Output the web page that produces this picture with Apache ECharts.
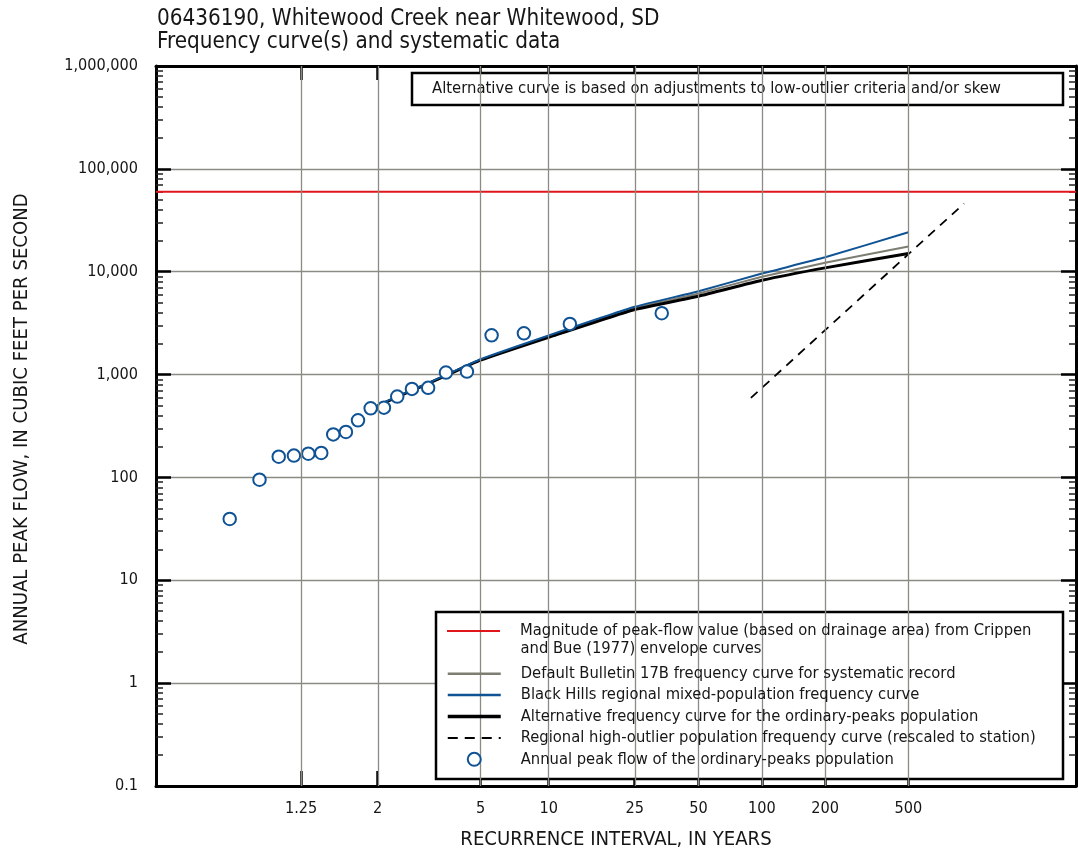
<!DOCTYPE html>
<html>
<head>
<meta charset="utf-8">
<title>06436190 Whitewood Creek near Whitewood, SD</title>
<script src="https://cdn.jsdelivr.net/npm/echarts@6.0.0/dist/echarts.min.js"></script>
<style>
html,body{margin:0;padding:0;background:#ffffff;}
#chart{width:1078px;height:855px;}
</style>
</head>
<body>
<div id="chart"></div>
<script>
// ---------------- texts ----------------
const titleLines = ['06436190, Whitewood Creek near Whitewood, SD', 'Frequency curve(s) and systematic data'];
const noteText = 'Alternative curve is based on adjustments to low-outlier criteria and/or skew';
const xAxisTitle = 'RECURRENCE INTERVAL, IN YEARS';
const yAxisTitle = 'ANNUAL PEAK FLOW, IN CUBIC FEET PER SECOND';

// ---------------- ticks ----------------
const xTickYears = [1.25, 2, 5, 10, 25, 50, 100, 200, 500];
const xTickLabels = ['1.25', '2', '5', '10', '25', '50', '100', '200', '500'];
const yTickValues = [0.1, 1, 10, 100, 1000, 10000, 100000, 1000000];
const yTickLabels = ['0.1', '1', '10', '100', '1,000', '10,000', '100,000', '1,000,000'];

// ---------------- series names / legend text ----------------
const nameEnvelope = 'Magnitude of peak-flow value (based on drainage area) from Crippen and Bue (1977) envelope curves';
const nameDefault = 'Default Bulletin 17B frequency curve for systematic record';
const nameRegional = 'Black Hills regional mixed-population frequency curve';
const nameAlternative = 'Alternative frequency curve for the ordinary-peaks population';
const nameOutlier = 'Regional high-outlier population frequency curve (rescaled to station)';
const namePeaks = 'Annual peak flow of the ordinary-peaks population';
const envelopeLegendLine1 = 'Magnitude of peak-flow value (based on drainage area) from Crippen';
const envelopeLegendLine2 = 'and Bue (1977) envelope curves';

// ---------------- values ----------------
const envelopeQ = 59800;                        // cubic feet per second
const curveRI = [2, 2.5, 3, 4, 5, 10, 25, 50, 100, 200, 500];   // recurrence interval, years
const defaultQ = [497, 658, 808, 1105, 1395, 2350, 4420, 6140, 8920, 12200, 17600];
const regionalQ = [505, 665, 812, 1115, 1410, 2400, 4560, 6460, 9600, 13800, 24200];
const alternativeQ = [497, 655, 805, 1100, 1380, 2300, 4290, 5780, 8260, 10900, 15000];
const outlierRI = [88.6, 200, 500, 923];
const outlierQ = [593, 2700, 14800, 46000];
const peakRI = [1.03, 1.085, 1.146, 1.212, 1.292, 1.38, 1.477, 1.598, 1.733, 1.898,
                2.10, 2.337, 2.645, 3.05, 3.59, 4.38, 5.58, 7.74, 12.5, 33.5];
const peakQ = [39.5, 95, 159, 163, 170, 173, 262, 277, 359, 470,
               477, 611, 726, 743, 1046, 1069, 2410, 2520, 3110, 3950];

// ---------------- fonts ----------------
const mctx = document.createElement('canvas').getContext('2d');
function fontExists(name) {
  const s = 'abcdefghijklmnopqrstuvwxyzABCDEFGHIJKLMNOPQRSTUVWXYZ0123456789';
  for (const base of ['monospace', 'serif']) {
    mctx.font = '40px ' + base; const w0 = mctx.measureText(s).width;
    mctx.font = "40px '" + name + "', " + base; const w1 = mctx.measureText(s).width;
    if (Math.abs(w1 - w0) > 0.5) return true;
  }
  return false;
}
const FAMILY = ['Liberation Sans Narrow', 'DejaVu Sans Condensed', 'Roboto Condensed', 'Arial Narrow', 'Liberation Sans'].find(fontExists) || 'sans-serif';
const FONT = "'" + FAMILY + "', sans-serif";
function textW(t, size) { mctx.font = size + 'px ' + FONT; return mctx.measureText(t).width; }
function fitSize(t, target, lo, hi) { return Math.max(lo, Math.min(hi, 100 * target / textW(t, 100))); }
const TITLE_FS = fitSize(titleLines[0], 503, 16, 28);
const NOTE_FS = fitSize(noteText, 569, 13, 21);
const LEG_FS = fitSize(envelopeLegendLine1, 512, 13, 21);
const TICK_FS = fitSize('100,000', 60, 13, 21);
const NAME_FS = fitSize(yAxisTitle, 452, 13, 21);

// ---------------- scales ----------------
// Recurrence-interval axis is a Gumbel (extreme-value) probability scale.
const gumbel = T => -Math.log(-Math.log(1 - 1 / T));
const X_MIN = -2.075, X_MAX = 8.06;
const Y_MIN = 0.1, Y_MAX = 1e6;
const xTickPos = xTickYears.map(gumbel);
const yMinorValues = [];
for (let d = 0.1; d < 1e6 - 1; d *= 10) for (let k = 2; k <= 9; k++) yMinorValues.push(+(d * k).toPrecision(3));
function xLabel(v) {
  let b = 0;
  xTickPos.forEach((p, i) => { if (Math.abs(p - v) < Math.abs(xTickPos[b] - v)) b = i; });
  return xTickLabels[b];
}
function yLabel(v) {
  let b = 0;
  yTickValues.forEach((p, i) => { if (Math.abs(Math.log10(p) - Math.log10(v)) < Math.abs(Math.log10(yTickValues[b]) - Math.log10(v))) b = i; });
  return yTickLabels[b];
}
const pairs = (ris, qs) => ris.map((t, i) => [gumbel(t), qs[i]]);

// ---------------- style ----------------
const GRID = '#8b8b83';
const RED = '#e0161d';
const GRAY = '#7d7d72';
const BLUE = '#0f5394';
const BLACK = '#000000';
const TXT = '#161616';
const L = 156, R = 1076, T = 66, B = 786;

// legend layout
const LEG_ICON_X = 446, LEG_ICON_W = 53, LEG_ICON_H = 13;
const LEG_ROW1 = 631, LEG_ROW2 = 673.7, LEG_STEP = 21.4, LEG_LINE = 18;
const LEG_TH = Math.max(LEG_ICON_H + 1, Math.round(LEG_FS));   // text box height of one legend line
const LEG_PAD = 15;
const LEG_TEXT_X = LEG_ICON_X + LEG_ICON_W + 5 + LEG_PAD + 1.5;

const xBase = { type: 'value', min: X_MIN, max: X_MAX, splitLine: { show: false } };
const yBase = { type: 'log', logBase: 10, min: Y_MIN, max: Y_MAX, minorTick: { show: false } };
const frameLine = { show: true, onZero: false, lineStyle: { color: BLACK, width: 3 } };
const hideSym = { opacity: 0 };
const legendCommon = {
  orient: 'vertical', left: LEG_ICON_X, padding: 0,
  itemWidth: LEG_ICON_W, itemHeight: LEG_ICON_H,
  selectedMode: false, z: 6,
  textStyle: { fontFamily: FONT, fontSize: LEG_FS, color: TXT, lineHeight: LEG_TH, padding: [0, 0, 0, LEG_PAD] }
};

const option = {
  animation: false,
  backgroundColor: '#ffffff',
  textStyle: { fontFamily: FONT },
  title: {
    text: titleLines.join('\n'),
    left: 157, top: 8, padding: 0,
    textStyle: { fontFamily: FONT, fontSize: TITLE_FS, fontWeight: 'normal', color: TXT, lineHeight: 23 }
  },
  grid: { left: L, right: 1078 - R, top: T, bottom: 855 - B, containLabel: false },
  xAxis: [
    Object.assign({}, xBase, {
      position: 'bottom',
      axisLine: frameLine,
      axisTick: { show: true, inside: true, length: 15, customValues: xTickPos, lineStyle: { color: BLACK, width: 2.5 } },
      axisLabel: { show: true, customValues: xTickPos, formatter: xLabel, fontFamily: FONT, fontSize: TICK_FS, color: TXT, margin: 15 },
      name: xAxisTitle, nameLocation: 'middle', nameGap: 44,
      nameTextStyle: { fontFamily: FONT, fontSize: NAME_FS, color: TXT }
    }),
    Object.assign({}, xBase, {
      position: 'top',
      axisLine: frameLine,
      axisTick: { show: true, inside: true, length: 14, customValues: xTickPos, lineStyle: { color: BLACK, width: 2.5 } },
      axisLabel: { show: false }
    })
  ],
  yAxis: [
    Object.assign({}, yBase, {
      position: 'left',
      axisLine: frameLine,
      axisTick: { show: true, inside: true, length: 15, lineStyle: { color: BLACK, width: 2.5 } },
      axisLabel: { show: true, formatter: yLabel, fontFamily: FONT, fontSize: TICK_FS, color: TXT, margin: 18 },
      splitLine: { show: true, lineStyle: { color: GRID, width: 1.3 } },
      name: yAxisTitle, nameLocation: 'middle', nameGap: 124,
      nameTextStyle: { fontFamily: FONT, fontSize: NAME_FS, color: TXT, padding: [0, 0, 0, 14] }
    }),
    Object.assign({}, yBase, {
      position: 'left',
      axisLine: { show: false, onZero: false },
      axisTick: { show: true, inside: true, length: 7, customValues: yMinorValues, lineStyle: { color: '#222', width: 1.5 } },
      axisLabel: { show: false }, splitLine: { show: false }
    }),
    Object.assign({}, yBase, {
      position: 'right',
      axisLine: frameLine,
      axisTick: { show: true, inside: true, length: 15, lineStyle: { color: BLACK, width: 2.5 } },
      axisLabel: { show: false }, splitLine: { show: false }
    }),
    Object.assign({}, yBase, {
      position: 'right',
      axisLine: { show: false, onZero: false },
      axisTick: { show: true, inside: true, length: 7, customValues: yMinorValues, lineStyle: { color: '#222', width: 1.5 } },
      axisLabel: { show: false }, splitLine: { show: false }
    })
  ],
  legend: [
    Object.assign({}, legendCommon, {
      top: LEG_ROW1 - LEG_TH / 2, itemGap: 0,
      formatter: () => envelopeLegendLine1,
      data: [{ name: nameEnvelope, lineStyle: { width: 2 }, itemStyle: hideSym }]
    }),
    Object.assign({}, legendCommon, {
      top: LEG_ROW2 - LEG_TH / 2, itemGap: LEG_STEP - LEG_TH,
      data: [
        { name: nameDefault, lineStyle: { width: 2.5 }, itemStyle: hideSym },
        { name: nameRegional, lineStyle: { width: 2.5 }, itemStyle: hideSym },
        { name: nameAlternative, lineStyle: { width: 3.5 }, itemStyle: hideSym },
        { name: nameOutlier, lineStyle: { width: 2, type: [10, 7] }, itemStyle: hideSym },
        { name: namePeaks, itemStyle: { borderWidth: 2, color: '#ffffff', borderColor: BLUE } }
      ]
    })
  ],
  graphic: [
    { type: 'rect', z: 3, shape: { x: 412, y: 73, width: 651, height: 32 },
      style: { fill: '#ffffff', stroke: BLACK, lineWidth: 2.5 } },
    { type: 'text', z: 4, x: 432, y: 89,
      style: { text: noteText, fill: TXT, font: NOTE_FS + 'px ' + FONT, verticalAlign: 'middle', align: 'left' } },
    { type: 'rect', z: 3, shape: { x: 436, y: 612, width: 627, height: 167 },
      style: { fill: '#ffffff', stroke: BLACK, lineWidth: 2.5 } },
    { type: 'text', z: 7, x: LEG_TEXT_X, y: LEG_ROW1 + LEG_LINE,
      style: { text: envelopeLegendLine2, fill: TXT, font: LEG_FS + 'px ' + FONT, verticalAlign: 'middle', align: 'left' } }
  ],
  series: [
    { // vertical grid lines at the labelled recurrence intervals
      type: 'line', data: [], z: 1, silent: true,
      markLine: { silent: true, symbol: ['none', 'none'], label: { show: false },
        lineStyle: { color: GRID, width: 1.3, type: 'solid' },
        emphasis: { disabled: true },
        data: xTickPos.map(v => ({ xAxis: v })) }
    },
    { name: nameEnvelope, type: 'line', symbol: 'none', z: 2,
      data: [[X_MIN, envelopeQ], [X_MAX, envelopeQ]],
      lineStyle: { color: RED, width: 2 }, itemStyle: { color: RED } },
    { name: nameDefault, type: 'line', symbol: 'none', smooth: 0.15, z: 2,
      data: pairs(curveRI, defaultQ), lineStyle: { color: GRAY, width: 2 }, itemStyle: { color: GRAY } },
    { name: nameAlternative, type: 'line', symbol: 'none', smooth: 0.15, z: 2,
      data: pairs(curveRI, alternativeQ), lineStyle: { color: BLACK, width: 3 }, itemStyle: { color: BLACK } },
    { name: nameRegional, type: 'line', symbol: 'none', smooth: 0.15, z: 2,
      data: pairs(curveRI, regionalQ), lineStyle: { color: BLUE, width: 2 }, itemStyle: { color: BLUE } },
    { name: nameOutlier, type: 'line', symbol: 'none', z: 2,
      data: pairs(outlierRI, outlierQ), lineStyle: { color: BLACK, width: 1.8, type: [9, 7] }, itemStyle: { color: BLACK } },
    { name: namePeaks, type: 'scatter', symbol: 'circle', symbolSize: 12.5, z: 2,
      data: pairs(peakRI, peakQ),
      itemStyle: { color: '#ffffff', borderColor: BLUE, borderWidth: 2, opacity: 1 } }
  ]
};

const chart = echarts.init(document.getElementById('chart'), null, { renderer: 'canvas' });
chart.setOption(option);
</script>
</body>
</html>
